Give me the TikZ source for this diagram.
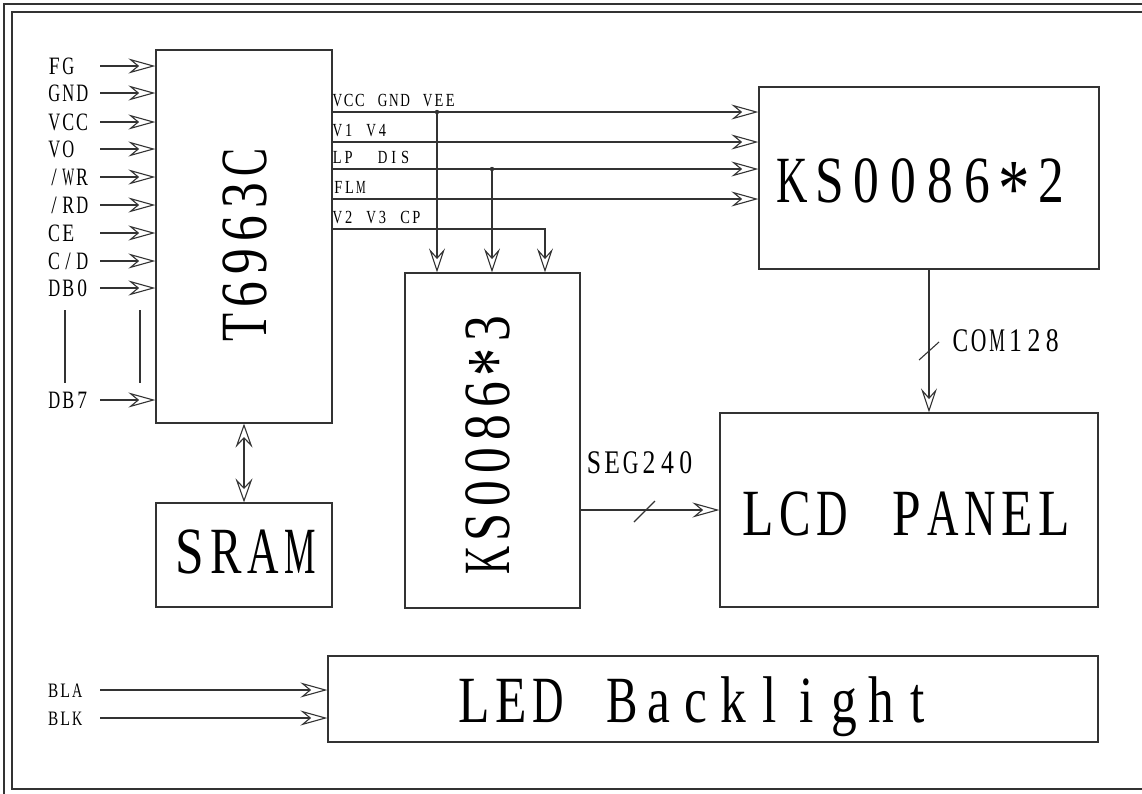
\documentclass[tikz,border=0pt]{standalone}
\usepackage{fontspec}
\usepackage{graphicx}
\newfontfamily\cad[FakeStretch=0.78]{Liberation Serif}
\usetikzlibrary{arrows.meta}
\newlength\cadpitch
\newsavebox\cadbox
\newcommand\cadchar[1]{\sbox\cadbox{#1}%
  \ifdim\wd\cadbox>0.85\cadpitch
    \makebox[\cadpitch][c]{\resizebox{0.85\cadpitch}{\height}{\usebox\cadbox}}%
  \else
    \makebox[\cadpitch][c]{\usebox\cadbox}%
  \fi}
\def\monoA#1{\ifx\relax#1\else\cadchar{#1}\expandafter\monoA\fi}
\newcommand\mono[2]{\setlength\cadpitch{#1pt}\monoA#2\relax}
\newcommand\st{\raisebox{-0.22em}{\scalebox{1.25}{*}}}
\tikzset{
  box/.style={draw=black!80, line width=1.2pt, rectangle, inner sep=0pt},
  wire/.style={draw=black!80, line width=1.1pt},
  arr/.style={wire, -{Stealth[open, length=27pt, width=15pt, inset=9pt]}},
  varr/.style={wire, -{Stealth[open, length=24pt, width=16pt, inset=9pt]}},
  darr/.style={wire, {Stealth[open, length=24pt, width=17pt, inset=9pt]}-{Stealth[open, length=24pt, width=17pt, inset=9pt]}},
  frame/.style={draw=black!80, line width=1.5pt},
  pin/.style={inner sep=0pt, anchor=base west, font=\cad\fontsize{25}{25}\selectfont},
  sig/.style={inner sep=0pt, anchor=base west, font=\cad\fontsize{18.5}{18.5}\selectfont},
  bus/.style={inner sep=0pt, anchor=base west, font=\cad\fontsize{33}{33}\selectfont},
  bl/.style={inner sep=0pt, anchor=base west, font=\cad\fontsize{20.5}{20.5}\selectfont},
  big/.style={inner sep=0pt, font=\cad\fontsize{66}{66}\selectfont},
}
\begin{document}
\begin{tikzpicture}[x=1pt,y=-1pt]
\useasboundingbox (0,0) rectangle (1142,793);
\clip (0,0) rectangle (1142,793);
% frames
\draw[frame] (4,4) rectangle (1170,820);
\draw[frame] (12,12) rectangle (1160,789);

% boxes
\node[box, minimum width=176pt, minimum height=373pt] (t69) at (244,236.5) {};
\node[box, minimum width=176pt, minimum height=104pt] (sram) at (244,555) {};
\node[box, minimum width=175pt, minimum height=335pt] (ks3) at (492.5,440.5) {};
\node[box, minimum width=340pt, minimum height=182pt] (ks2) at (929,178) {};
\node[box, minimum width=378pt, minimum height=194pt] (lcd) at (909,510) {};
\node[box, minimum width=770pt, minimum height=86pt] (led) at (713,699) {};

% box texts
\node[big, rotate=90] (tT) at (245,245) {\mono{33}{T6963C}};
\node[big, rotate=90] (tK3) at (494.5,444.5) {\mono{33}{KS0086\st3}};
\node[big, anchor=base] (tK2) at (922,202) {\mono{37}{KS0086\st2}};
\node[big, anchor=base] (tLCD) at (906.5,535) {\mono{37}{LCD~PANEL}};
\node[big, anchor=base] (tSR) at (245,573) {\mono{37}{SRAM}};
\node[big, anchor=base] (tLED) at (696,722) {\mono{37}{LED~Backlight}};

% input pins
\node[pin] (pFG) at (47,74) {\mono{14}{FG}};
\node[pin] (pGND) at (47,101) {\mono{14}{GND}};
\node[pin] (pVCC) at (47,130) {\mono{14}{VCC}};
\node[pin] (pVO) at (47,157) {\mono{14}{VO}};
\node[pin] (pWR) at (47,185) {\mono{14}{/WR}};
\node[pin] (pRD) at (47,213) {\mono{14}{/RD}};
\node[pin] (pCE) at (47,241) {\mono{14}{CE}};
\node[pin] (pCD) at (47,269) {\mono{14}{C/D}};
\node[pin] (pDB0) at (47,296) {\mono{14}{DB0}};
\node[pin] (pDB7) at (47,408) {\mono{14}{DB7}};
\coordinate (iFG) at (100,66);
\coordinate (iGND) at (100,93);
\coordinate (iVCC) at (100,122);
\coordinate (iVO) at (100,149);
\coordinate (iWR) at (100,177);
\coordinate (iRD) at (100,205);
\coordinate (iCE) at (100,233);
\coordinate (iCD) at (100,261);
\coordinate (iDB0) at (100,288);
\coordinate (iDB7) at (100,400);
\foreach \c in {iFG,iGND,iVCC,iVO,iWR,iRD,iCE,iCD,iDB0,iDB7}
  \draw[arr] (\c) -- (\c -| t69.west);
\coordinate (va1) at (65,310);
\coordinate (vb1) at (65,383);
\coordinate (va2) at (140,310);
\coordinate (vb2) at (140,383);
\draw[wire] (va1) -- (vb1);
\draw[wire] (va2) -- (vb2);

% outputs of T6963C
\coordinate (o1) at (332,112);
\coordinate (o2) at (332,142);
\coordinate (o3) at (332,169);
\coordinate (o4) at (332,199);
\coordinate (o5) at (332,229);
\node[sig] (s1) at (331.5,106) {\mono{11.3}{VCC~GND~VEE}};
\node[sig] (s2) at (331.5,136) {\mono{11.3}{V1~V4}};
\node[sig] (s3) at (331.5,163) {\mono{11.3}{LP~~DIS}};
\node[sig] (s4) at (332.5,193) {\mono{11.3}{FLM}};
\node[sig] (s5) at (331.5,223) {\mono{11.3}{V2~V3~CP}};
\foreach \c in {o1,o2,o3,o4}
  \draw[arr] (\c) -- (\c -| ks2.west);
\coordinate (d1) at (437,112);
\coordinate (d2) at (492,169);
\coordinate (c5) at (545,229);
\fill[black!80] (d1) circle (2.2pt);
\fill[black!80] (d2) circle (2.2pt);
\draw[varr] (d1) -- (d1 |- ks3.north);
\draw[varr] (d2) -- (d2 |- ks3.north);
\draw[varr] (o5) -- (c5) -- (c5 |- ks3.north);

% SRAM link
\draw[darr] (t69.south) -- (sram.north);

% COM128
\coordinate (cs1) at (919,360);
\coordinate (cs2) at (939,342);
\draw[varr] (ks2.south) -- (ks2.south |- lcd.north);
\draw[wire] (cs1) -- (cs2);
\node[bus] (lCOM) at (951,351) {\mono{18.4}{COM128}};

% SEG240
\coordinate (seg) at (580,510);
\coordinate (ss1) at (634,522);
\coordinate (ss2) at (655,501);
\draw[arr] (seg) -- (seg -| lcd.west);
\draw[wire] (ss1) -- (ss2);
\node[bus] (lSEG) at (584.5,473) {\mono{18.4}{SEG240}};

% backlight
\node[bl] (pBLA) at (47,697) {\mono{12}{BLA}};
\node[bl] (pBLK) at (47,725) {\mono{12}{BLK}};
\coordinate (iBLA) at (100,690);
\coordinate (iBLK) at (100,718);
\draw[arr] (iBLA) -- (iBLA -| led.west);
\draw[arr] (iBLK) -- (iBLK -| led.west);
\end{tikzpicture}
\end{document}
